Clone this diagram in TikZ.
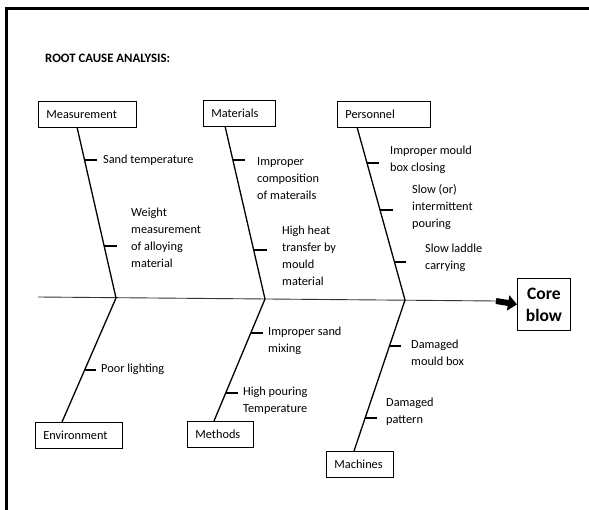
\documentclass[tikz,border=0pt]{standalone}
\usepackage{fontspec}
\setmainfont{Carlito}
\usetikzlibrary{arrows.meta,calc}
\begin{document}
\begin{tikzpicture}[x=1pt,y=-1pt,
  catbox/.style={draw,line width=0.8pt,inner xsep=8pt,inner ysep=0pt,minimum height=26pt,align=left,font=\fontsize{12.3}{17}\selectfont,anchor=north west},
  cause/.style={inner sep=0pt,align=left,anchor=west,font=\fontsize{12.3}{17}\selectfont},
  bone/.style={line width=1.3pt},
  tick/.style={line width=1.3pt}]
\useasboundingbox (0,0) rectangle (589,510);
% frame
\draw[line width=3pt] (6,510) -- (6,9) -- (589,9);
% title
\node[anchor=west,inner sep=0pt,font=\fontsize{12.8}{14}\selectfont\bfseries] (title) at (45,58) {ROOT CAUSE ANALYSIS:};
% category boxes
\node[catbox,text width=82pt] (meas) at (38,101) {Measurement};
\node[catbox,text width=56pt] (mat) at (203,100) {Materials};
\node[catbox,text width=77pt] (pers) at (337,101) {Personnel};
\node[catbox,text width=71pt] (env) at (35,422) {Environment};
\node[catbox,text width=50pt] (meth) at (187,421) {Methods};
\node[catbox,text width=51pt] (mach) at (326,451) {Machines};
\node[draw,line width=0.8pt,anchor=north west,minimum width=53pt,minimum height=52pt,inner sep=0pt,align=center,font=\fontsize{17.5}{22}\selectfont\bfseries] (core) at (517,278) {Core\\blow};
% joints
\coordinate (j1) at (116,298);
\coordinate (j2) at (265,299);
\coordinate (j3) at (405,300);
\coordinate (s0) at (38,297);
\coordinate (a0) at (496,301);
\coordinate (mt) at (77,127);
\coordinate (tt) at (225,126);
\coordinate (pt) at (357,127);
\coordinate (eb) at (62,422);
\coordinate (hb) at (214,421);
\coordinate (cb) at (354,451);
% spine
\draw[line width=0.9pt,black!80] (s0) -- (a0);
\draw[line width=6pt,-{Triangle[length=9pt,width=15pt]}] (a0) -- (core.west);
% bones
\draw[bone] (mt) -- (j1);
\draw[bone] (tt) -- (j2);
\draw[bone] (pt) -- (j3);
\draw[bone] (j1) -- (eb);
\draw[bone] (j2) -- (hb);
\draw[bone] (j3) -- (cb);
% ticks
\draw[tick] ($(mt)!33/171!(j1)$) -- ++(12,0) coordinate (m1);
\draw[tick] ($(mt)!119/171!(j1)$) -- ++(13,0) coordinate (m2);
\draw[tick] ($(tt)!34/173!(j2)$) -- ++(12,0) coordinate (t1);
\draw[tick] ($(tt)!124/173!(j2)$) -- ++(13,0) coordinate (t2);
\draw[tick] ($(pt)!36/173!(j3)$) -- ++(12,0) coordinate (p1);
\draw[tick] ($(pt)!83/173!(j3)$) -- ++(13,0) coordinate (p2);
\draw[tick] ($(pt)!135/173!(j3)$) -- ++(12,0) coordinate (p3);
\draw[tick] ($(j1)!72/124!(eb)$) -- ++(11,0) coordinate (e1);
\draw[tick] ($(j2)!34/122!(hb)$) -- ++(12,0) coordinate (h1);
\draw[tick] ($(j2)!94/122!(hb)$) -- ++(12,0) coordinate (h2);
\draw[tick] ($(j3)!46/151!(cb)$) -- ++(12,0) coordinate (c1);
\draw[tick] ($(j3)!118/151!(cb)$) -- ++(12,0) coordinate (c2);
% cause texts
\node[cause] (tm1) at (103,160) {Sand temperature};
\node[cause] (tm2) at (131,238) {Weight\\measurement\\of alloying\\material};
\node[cause] (tt1) at (257,179) {Improper\\composition\\of materails};
\node[cause] (tt2) at (282,256) {High heat\\transfer by\\mould\\material};
\node[cause] (tp1) at (390,160) {Improper mould\\box closing};
\node[cause] (tp2) at (412,207) {Slow (or)\\intermittent\\pouring};
\node[cause] (tp3) at (425,258) {Slow laddle\\carrying};
\node[cause] (te1) at (101,369) {Poor lighting};
\node[cause] (th1) at (268,341) {Improper sand\\mixing};
\node[cause] (th2) at (243,401) {High pouring\\Temperature};
\node[cause] (tc1) at (411,353) {Damaged\\mould box};
\node[cause] (tc2) at (386,412) {Damaged\\pattern};
\end{tikzpicture}
\end{document}
